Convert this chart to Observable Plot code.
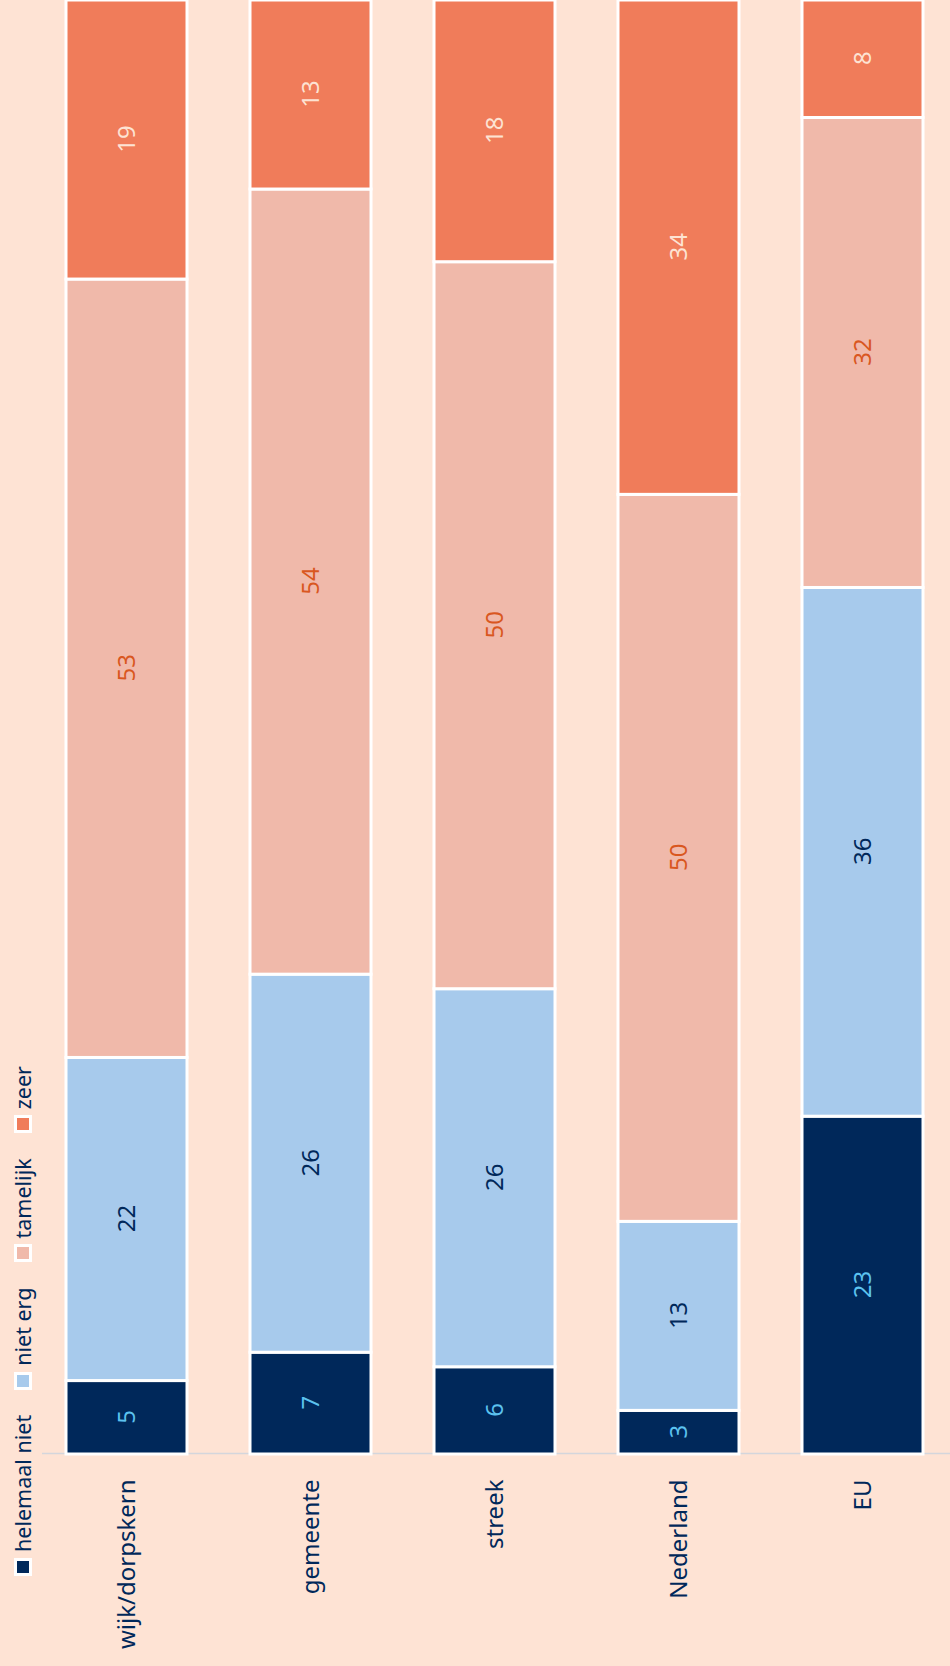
<!DOCTYPE html>
<html>
<head>
<meta charset="utf-8">
<script src="https://cdn.jsdelivr.net/npm/d3@7"></script>
<script src="https://cdn.jsdelivr.net/npm/@observablehq/plot@0.6"></script>
<style>
  html, body { margin: 0; padding: 0; background: #fee3d4; }
  body { width: 950px; height: 1666px; overflow: hidden; position: relative; }
  #rot { position: absolute; left: 0; top: 0; width: 1666px; height: 950px;
         transform-origin: 0 0; transform: translate(0px, 1666px) rotate(-90deg); }
  #legend { position: absolute; left: 90px; top: 8px; display: flex; align-items: center;
            font-family: "Noto Sans", sans-serif; font-size: 21.5px; color: #00285a; }
  .item { display: flex; align-items: center; margin-right: 25px; }
  .sw { width: 18px; height: 18px; box-sizing: border-box; border: 3px solid #fff; margin-right: 6px; }
  #chart { position: absolute; left: 0; top: 0; }
</style>
</head>
<body>
<div id="rot">
  <div id="chart"></div>
  <div id="legend"></div>
</div>
<script>
const categories = ["wijk/dorpskern", "gemeente", "streek", "Nederland", "EU"];
const series = ["helemaal niet", "niet erg", "tamelijk", "zeer"];
const helemaalNiet = [5, 7, 6, 3, 23];
const nietErg = [22, 26, 26, 13, 36];
const tamelijk = [53, 54, 50, 50, 32];
const zeer = [19, 13, 18, 34, 8];
const colors = ["#00285a", "#a7caec", "#f0b9aa", "#f07c5a"];
const labelColors = ["#5cc2ef", "#00285a", "#d9571f", "#fde3d3"];

const values = [helemaalNiet, nietErg, tamelijk, zeer];
const data = [];
series.forEach((s, si) => categories.forEach((c, ci) => data.push({cat: c, series: s, value: values[si][ci]})));

const stackOpts = {x: "value", y: "cat", z: "series", order: series, offset: "normalize"};

const marks = [
  Plot.ruleX([0], {stroke: "#d4d6dc", strokeWidth: 1.5}),
  Plot.barX(data, Plot.stackX({...stackOpts, fill: "series", stroke: "#fff", strokeWidth: 3})),
  ...series.map((s, si) => Plot.text(data, Plot.filter(d => d.series === s,
      Plot.stackX({...stackOpts, text: d => String(d.value), fill: labelColors[si],
        fontSize: 24, fontFamily: "Noto Sans, sans-serif"}))))
];

const chart = Plot.plot({
  width: 1666,
  height: 950,
  marginLeft: 212,
  marginRight: 0,
  marginTop: 42,
  marginBottom: 0,
  style: {background: "transparent", fontFamily: "Noto Sans, sans-serif"},
  x: {axis: null, domain: [0, 1]},
  y: {domain: categories, range: [65, 923], paddingInner: 0.343, paddingOuter: 0, label: null},
  color: {domain: series, range: colors},
  marks: [
    Plot.axisY({tickSize: 0, tickPadding: 26, fontSize: 24, color: "#00285a", label: null}),
    ...marks
  ]
});
document.getElementById("chart").appendChild(chart);

const leg = document.getElementById("legend");
series.forEach((s, i) => {
  const it = document.createElement("div");
  it.className = "item";
  const sw = document.createElement("div");
  sw.className = "sw";
  sw.style.background = colors[i];
  const t = document.createElement("span");
  t.textContent = s;
  it.appendChild(sw); it.appendChild(t);
  leg.appendChild(it);
});
</script>
</body>
</html>
